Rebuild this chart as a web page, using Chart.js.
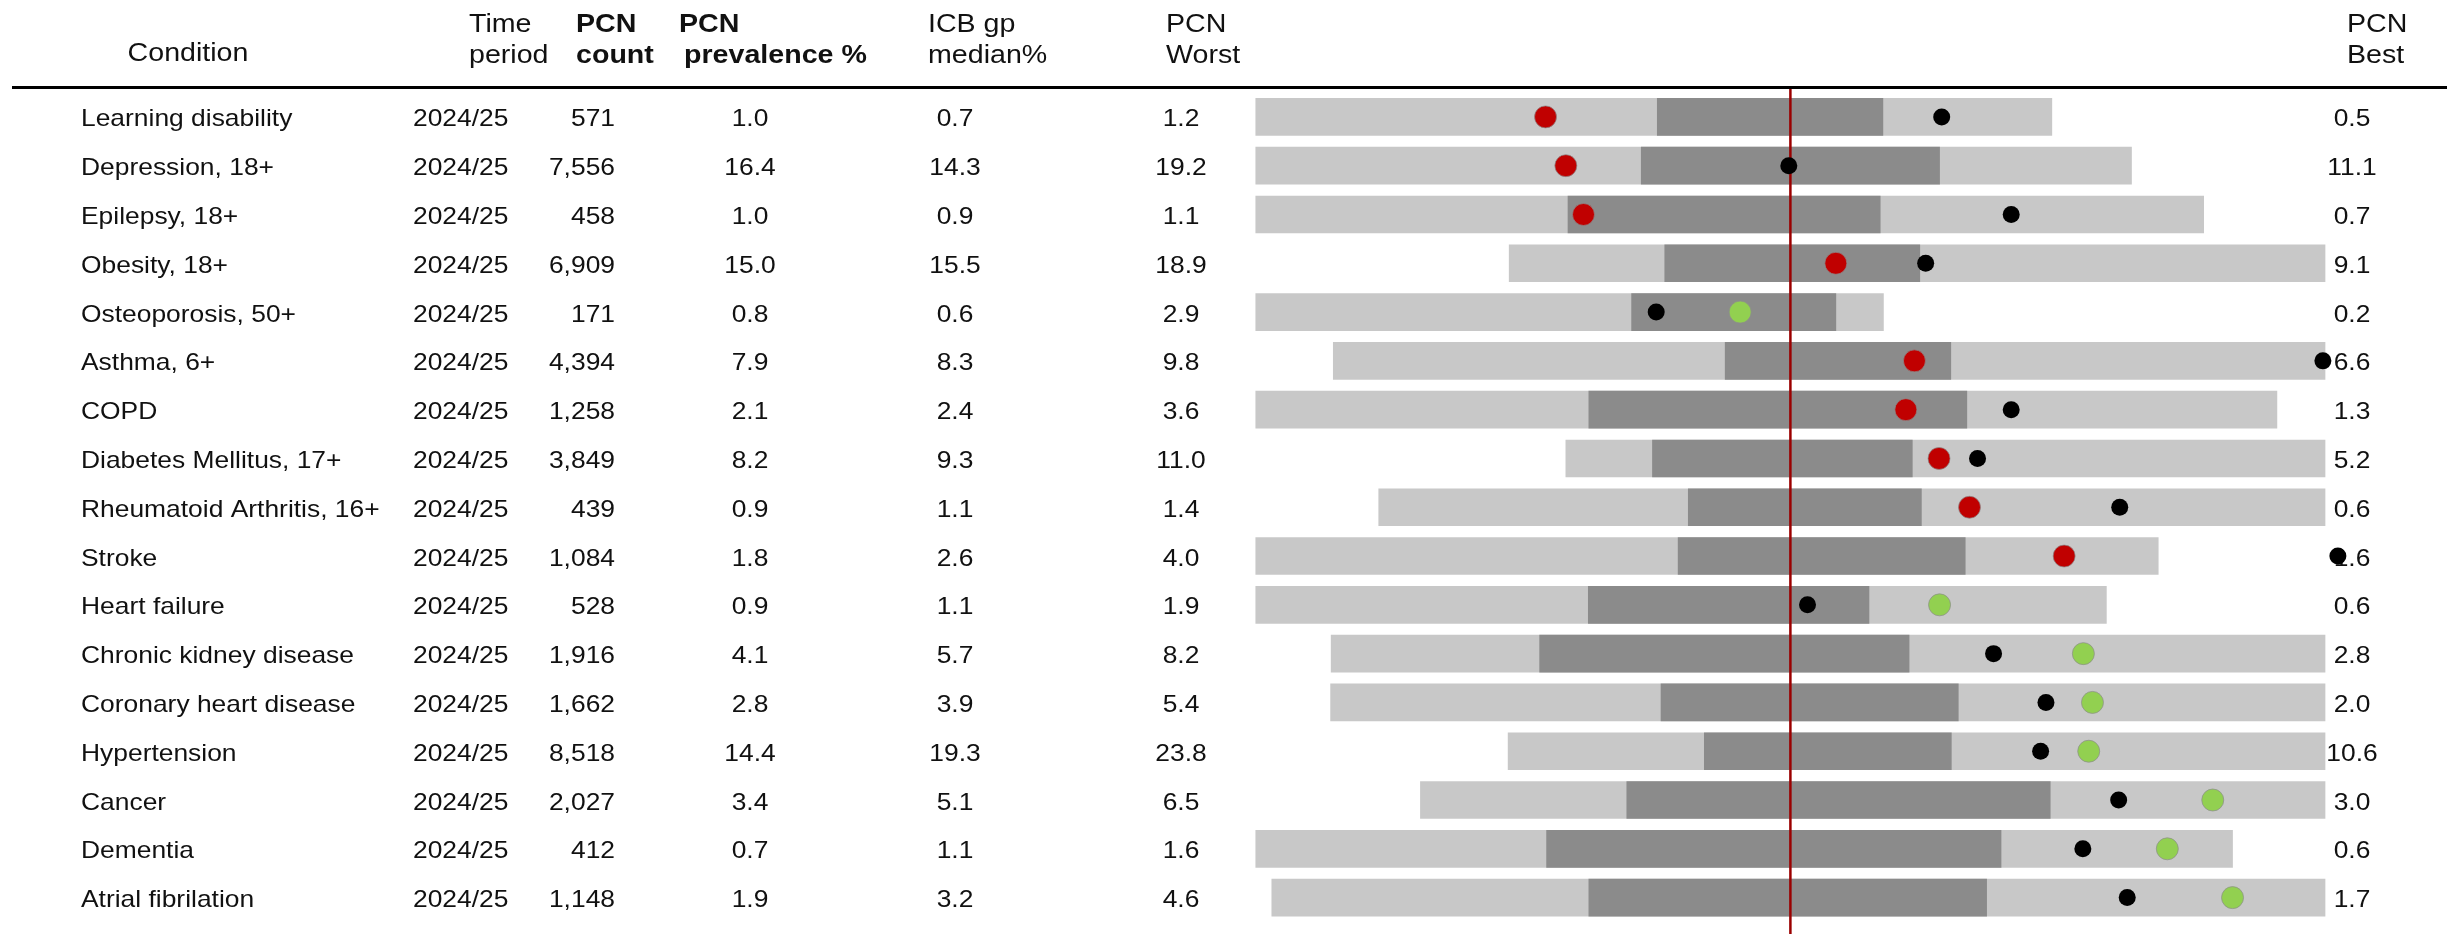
<!DOCTYPE html>
<html>
<head>
<meta charset="utf-8">
<title>PCN prevalence spine chart</title>
<script src="https://cdn.jsdelivr.net/npm/chart.js@4.4.1/dist/chart.umd.min.js"></script>
<style>
    html, body { margin: 0; padding: 0; background: #ffffff; }
    #wrap { width: 2447px; height: 934px; }
</style>
</head>
<body>
<div id="wrap"><canvas id="spine" width="2447" height="934"></canvas></div>
<script>
// ---- table data ----
const conditions = [
    'Learning disability', 'Depression, 18+', 'Epilepsy, 18+', 'Obesity, 18+',
    'Osteoporosis, 50+', 'Asthma, 6+', 'COPD', 'Diabetes Mellitus, 17+',
    'Rheumatoid Arthritis, 16+', 'Stroke', 'Heart failure', 'Chronic kidney disease',
    'Coronary heart disease', 'Hypertension', 'Cancer', 'Dementia', 'Atrial fibrilation'
];
const timePeriods = ['2024/25', '2024/25', '2024/25', '2024/25', '2024/25', '2024/25',
    '2024/25', '2024/25', '2024/25', '2024/25', '2024/25', '2024/25', '2024/25',
    '2024/25', '2024/25', '2024/25', '2024/25'];
const pcnCounts = [571, 7556, 458, 6909, 171, 4394, 1258, 3849, 439, 1084, 528, 1916, 1662, 8518, 2027, 412, 1148];
const pcnPrevalence = [1.0, 16.4, 1.0, 15.0, 0.8, 7.9, 2.1, 8.2, 0.9, 1.8, 0.9, 4.1, 2.8, 14.4, 3.4, 0.7, 1.9];
const icbMedian = [0.7, 14.3, 0.9, 15.5, 0.6, 8.3, 2.4, 9.3, 1.1, 2.6, 1.1, 5.7, 3.9, 19.3, 5.1, 1.1, 3.2];
const pcnWorst = [1.2, 19.2, 1.1, 18.9, 2.9, 9.8, 3.6, 11.0, 1.4, 4.0, 1.9, 8.2, 5.4, 23.8, 6.5, 1.6, 4.6];
const pcnBest = [0.5, 11.1, 0.7, 9.1, 0.2, 6.6, 1.3, 5.2, 0.6, 1.6, 0.6, 2.8, 2.0, 10.6, 3.0, 0.6, 1.7];

// ---- spine data (scaled: -1 = worst end, 0 = ICB median, +1 = best end) ----
const spineWorst = [-1.0, -1.0, -1.0, -0.526, -1.0, -0.855, -1.0, -0.420, -0.770, -1.0, -1.0, -0.859, -0.860, -0.528, -0.692, -1.0, -0.970];
const spineQ1 = [-0.249, -0.279, -0.416, -0.235, -0.297, -0.122, -0.377, -0.258, -0.191, -0.210, -0.378, -0.469, -0.242, -0.161, -0.306, -0.456, -0.377];
const spineQ3 = [0.173, 0.279, 0.168, 0.242, 0.085, 0.300, 0.330, 0.228, 0.245, 0.327, 0.147, 0.222, 0.314, 0.301, 0.486, 0.394, 0.367];
const spineBest = [0.489, 0.638, 0.773, 1.0, 0.174, 1.0, 0.910, 1.0, 1.0, 0.688, 0.591, 1.0, 1.0, 1.0, 1.0, 0.827, 1.0];
const spinePcn = [-0.458, -0.420, -0.387, 0.085, -0.094, 0.232, 0.216, 0.278, 0.335, 0.512, 0.279, 0.548, 0.565, 0.558, 0.790, 0.705, 0.827];
const spineEngland = [0.283, -0.003, 0.413, 0.253, -0.251, 0.996, 0.413, 0.350, 0.616, 1.024, 0.032, 0.380, 0.478, 0.468, 0.614, 0.547, 0.630];
// comparison of PCN value with the ICB: 'higher' (red) or 'lower' (green)
const pcnCompare = ['higher', 'higher', 'higher', 'higher', 'lower', 'higher', 'higher', 'higher',
    'higher', 'higher', 'lower', 'lower', 'lower', 'lower', 'lower', 'lower', 'lower'];

// ---- styling ----
const FONT_FAMILY = '"Liberation Sans", Arial, sans-serif';
const TEXT_STRETCH = 1.1;
const COLORS = {
    range: '#c8c8c8',
    iqr: '#8b8b8b',
    higher: '#c00000',
    lower: '#92d050',
    england: '#000000',
    median: '#9b0000',
    text: '#111111'
};

const headerCols = [
    { lines: ['Time', 'period'], x: 469, bold: false },
    { lines: ['PCN', 'count'], x: 576, bold: true },
    { lines: ['PCN', 'prevalence %'], x: 679, x2: 684, bold: true },
    { lines: ['ICB gp', 'median%'], x: 928, bold: false },
    { lines: ['PCN', 'Worst'], x: 1166, bold: false },
    { lines: ['PCN', 'Best'], x: 2347, bold: false }
];

/**
 * Draw text slightly widened, like the reference rendering
 */
function drawText(ctx, text, x, y, align, font) {
    ctx.save();
    ctx.font = font;
    ctx.textAlign = align;
    ctx.textBaseline = 'alphabetic';
    ctx.fillStyle = COLORS.text;
    ctx.translate(x, y);
    ctx.scale(TEXT_STRETCH, 1);
    ctx.fillText(text, 0, 0);
    ctx.restore();
}

const fmtCount = v => v.toLocaleString('en-GB');

const tablePlugin = {
    id: 'spineTable',
    beforeDatasetsDraw(chart) {
        const ctx = chart.ctx;
        const yScale = chart.scales.y;
        const rowFont = '24px ' + FONT_FAMILY;
        const headFont = '26px ' + FONT_FAMILY;
        const headBold = 'bold 26px ' + FONT_FAMILY;

        // header
        drawText(ctx, 'Condition', 188, 61, 'center', headFont);
        headerCols.forEach(col => {
            const f = col.bold ? headBold : headFont;
            drawText(ctx, col.lines[0], col.x, 32, 'left', f);
            drawText(ctx, col.lines[1], col.x2 || col.x, 63, 'left', f);
        });

        ctx.save();
        ctx.strokeStyle = '#000000';
        ctx.lineWidth = 3;
        ctx.beginPath();
        ctx.moveTo(12, 87.5);
        ctx.lineTo(chart.width, 87.5);
        ctx.stroke();
        ctx.restore();

        // rows
        conditions.forEach((name, i) => {
            const y = yScale.getPixelForValue(i) + 9.5;
            drawText(ctx, name, 81, y, 'left', rowFont);
            drawText(ctx, timePeriods[i], 413, y, 'left', rowFont);
            drawText(ctx, fmtCount(pcnCounts[i]), 615, y, 'right', rowFont);
            drawText(ctx, pcnPrevalence[i].toFixed(1), 750, y, 'center', rowFont);
            drawText(ctx, icbMedian[i].toFixed(1), 955, y, 'center', rowFont);
            drawText(ctx, pcnWorst[i].toFixed(1), 1181, y, 'center', rowFont);
            drawText(ctx, pcnBest[i].toFixed(1), 2352, y, 'center', rowFont);
        });
    },
    afterDatasetDraw(chart, args) {
        // median line goes over the bars but under the markers
        if (args.index !== 1) return;
        const ctx = chart.ctx;
        const x = chart.scales.x.getPixelForValue(0);
        ctx.save();
        ctx.strokeStyle = COLORS.median;
        ctx.lineWidth = 2.5;
        ctx.beginPath();
        ctx.moveTo(x, 89);
        ctx.lineTo(x, chart.height);
        ctx.stroke();
        ctx.restore();
    }
};

const ctx = document.getElementById('spine').getContext('2d');

new Chart(ctx, {
    data: {
        labels: conditions,
        datasets: [
            {
                type: 'bar',
                label: 'PCN range',
                data: spineWorst.map((w, i) => [w, spineBest[i]]),
                backgroundColor: COLORS.range,
                borderWidth: 0,
                barThickness: 37,
                grouped: false,
                order: 4
            },
            {
                type: 'bar',
                label: 'Interquartile range',
                data: spineQ1.map((q, i) => [q, spineQ3[i]]),
                backgroundColor: COLORS.iqr,
                borderWidth: 0,
                barThickness: 37,
                grouped: false,
                order: 3
            },
            {
                type: 'scatter',
                label: 'England',
                data: spineEngland.map((v, i) => ({ x: v, y: conditions[i] })),
                pointRadius: 8.5,
                pointBackgroundColor: COLORS.england,
                pointBorderWidth: 0,
                clip: false,
                order: 2
            },
            {
                type: 'scatter',
                label: 'PCN',
                data: spinePcn.map((v, i) => ({ x: v, y: conditions[i] })),
                pointRadius: 11,
                pointBackgroundColor: pcnCompare.map(c => COLORS[c]),
                pointBorderColor: 'rgba(140, 140, 140, 0.7)',
                pointBorderWidth: 1,
                clip: false,
                order: 1
            }
        ]
    },
    options: {
        indexAxis: 'y',
        responsive: false,
        animation: false,
        devicePixelRatio: 1,
        events: [],
        // spine -1..+1 spans x 1256..2325; scale runs to +/-1.1 so edge markers still draw
        layout: {
            padding: { left: 1202.3, right: 68.5, top: 92.5, bottom: 0 }
        },
        plugins: {
            legend: { display: false },
            tooltip: { enabled: false }
        },
        scales: {
            x: { type: 'linear', min: -1.1, max: 1.1, display: false },
            y: { type: 'category', offset: true, display: false }
        }
    },
    plugins: [tablePlugin]
});
</script>
</body>
</html>
